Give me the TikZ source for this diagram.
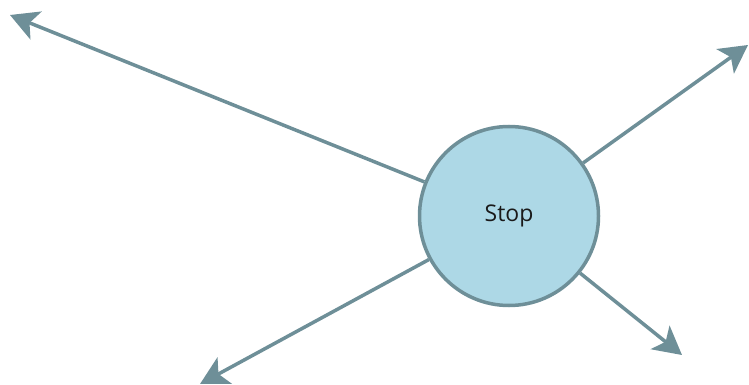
\documentclass[tikz,border=0pt]{standalone}
\usepackage{fontspec}
\setmainfont{Open Sans}
\usetikzlibrary{arrows.meta}
\definecolor{edgecol}{HTML}{6E8F98}
\definecolor{nodefill}{HTML}{ADD8E6}
\definecolor{textcol}{HTML}{1A1A1A}
\tikzset{
  statenode/.style={circle, draw=edgecol, line width=3.5pt, fill=nodefill,
    minimum size=179pt, inner sep=0pt, text=textcol, font=\fontsize{23}{26}\selectfont},
  flow/.style={draw=edgecol, line width=3.5pt,
    -{Stealth[length=28pt, width=30pt, inset=7pt]}}
}
\begin{document}
\begin{tikzpicture}[x=1pt, y=-1pt]
  \useasboundingbox (0,0) rectangle (749,385);
  \node[statenode] (stop) at (509,216) {Stop};
  \coordinate (tl) at (10,15);
  \coordinate (tr) at (748,45);
  \coordinate (bl) at (200,384);
  \coordinate (br) at (682,355);
  \draw[flow] (stop) -- (tl);
  \draw[flow] (stop) -- (tr);
  \draw[flow] (stop) -- (bl);
  \draw[flow] (stop) -- (br);
\end{tikzpicture}
\end{document}
